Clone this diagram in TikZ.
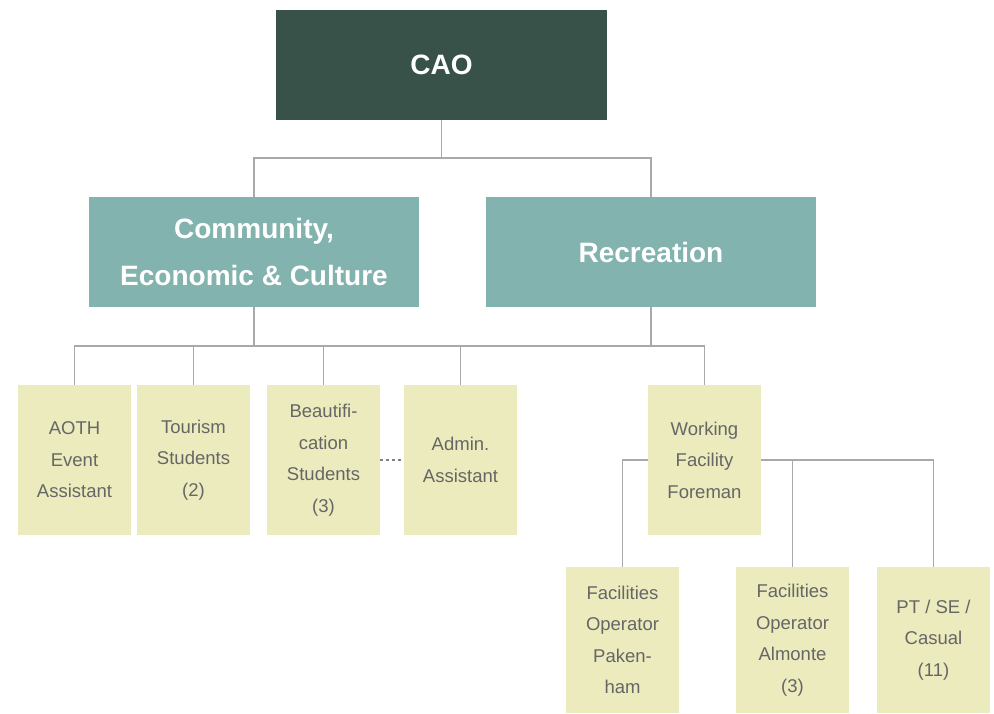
\documentclass[tikz,border=0pt]{standalone}
\usepackage{fontspec}
\setmainfont{Liberation Sans}
\usepackage{tikz}
\usetikzlibrary{positioning,calc}

\definecolor{caogreen}{HTML}{385249}
\definecolor{deptteal}{HTML}{83B3AE}
\definecolor{staffyellow}{HTML}{EBEBBD}
\definecolor{staffgray}{HTML}{666666}
\definecolor{linkgray}{HTML}{A9A9AD}

\tikzset{
  topbox/.style={fill=caogreen, text=white, minimum width=331pt, minimum height=110pt,
    font=\fontsize{28}{47}\selectfont\bfseries, align=center, inner sep=0pt},
  deptbox/.style={topbox, fill=deptteal, minimum width=330pt},
  staffbox/.style={fill=staffyellow, text=staffgray, minimum width=113pt, minimum height=150pt,
    font=\fontsize{18.5}{31.5}\selectfont, align=center, inner sep=0pt},
  crewbox/.style={staffbox, minimum height=146pt},
  link/.style={draw=linkgray, line width=1.6pt},
}

\begin{document}
\begin{tikzpicture}[x=1pt, y=-1pt]
  \useasboundingbox (0,0) rectangle (994,713);

  % levels 1 and 2
  \node[topbox] (cao) at (441.5,65) {CAO};
  \node[deptbox] (comm) at (254,252) {Community,\\Economic \& Culture};
  \node[deptbox] (rec) at (651,252) {Recreation};

  % level 3
  \node[staffbox] (aoth) at (74.5,460) {AOTH\\Event\\Assistant};
  \node[staffbox] (tour) at (193.5,460) {Tourism\\Students\\(2)};
  \node[staffbox] (beaut) at (323.5,460) {Beautifi-\\cation\\Students\\(3)};
  \node[staffbox] (admin) at (460.5,460) {Admin.\\Assistant};
  \node[staffbox] (foreman) at (704.5,460) {Working\\Facility\\Foreman};

  % level 4
  \node[crewbox] (pak) at (622.5,640) {Facilities\\Operator\\Paken-\\ham};
  \node[crewbox] (alm) at (792.5,640) {Facilities\\Operator\\Almonte\\(3)};
  \node[crewbox] (casual) at (933.5,640) {PT / SE /\\Casual\\(11)};

  % connectors
  \draw[link] (cao.south) -- ++(0,38) -| (comm.north);
  \draw[link] (cao.south) -- ++(0,38) -| (rec.north);
  \foreach \n in {aoth,tour,beaut,admin}
    \draw[link] (comm.south) -- ++(0,39) -| (\n.north);
  \draw[link] (rec.south) -- ++(0,39) -| (foreman.north);
  \draw[link] ($(comm.south)+(0,39)$) -- ($(rec.south)+(0,39)$);
  \draw[link] (foreman.west) -| (pak.north);
  \draw[link] (foreman.east) -| (alm.north);
  \draw[link] (foreman.east) -| (casual.north);
  \draw[link, draw=gray, dashed, line width=1.2pt] (beaut.east) -- (admin.west);
\end{tikzpicture}
\end{document}
